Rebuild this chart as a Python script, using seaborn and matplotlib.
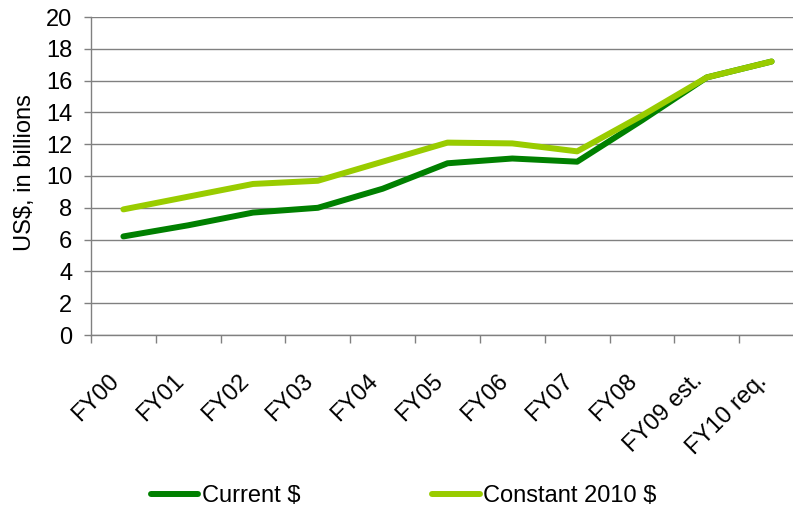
import pandas as pd
import matplotlib
matplotlib.use("Agg")
import matplotlib.pyplot as plt
import matplotlib.transforms as mtransforms
import seaborn as sns

years = ["FY00", "FY01", "FY02", "FY03", "FY04", "FY05",
         "FY06", "FY07", "FY08", "FY09 est.", "FY10 req."]
current = [6.2, 6.9, 7.7, 8.0, 9.2, 10.8, 11.1, 10.9, 13.5, 16.2, 17.2]
constant = [7.9, 8.7, 9.5, 9.7, 10.9, 12.1, 12.05, 11.55, 13.8, 16.2, 17.2]
series_names = ["Current $", "Constant 2010 $"]
colors = ["#008000", "#99CC00"]

df = pd.DataFrame({
    "year": years * 2,
    "value": current + constant,
    "series": [series_names[0]] * len(years) + [series_names[1]] * len(years),
})

sns.set_style("white")
plt.rcParams["font.family"] = ["Liberation Sans", "DejaVu Sans"]
plt.rcParams["text.color"] = "black"
plt.rcParams["axes.labelcolor"] = "black"
fs = 17

fig = plt.figure(figsize=(7.93, 5.14), dpi=100)
# right edge of the plot runs past the image, as in the original
ax = fig.add_axes([91 / 793, 1 - 335 / 514, 713 / 793, 318 / 514])

sns.lineplot(data=df, x="year", y="value", hue="series", palette=colors,
             linewidth=4.3, sort=False, ax=ax, solid_capstyle="round")

ax.set_ylim(0, 20)
ax.set_yticks(range(0, 21, 2))
ax.set_xlim(-0.5, len(years) - 0.5)

# category boundaries get the tick marks, labels sit at the centres
ax.set_xticks([i - 0.5 for i in range(len(years) + 1)])
ax.set_xticklabels([])
ax.set_xticks(range(len(years)), minor=True)
ax.set_xticklabels(years, minor=True, rotation=45, ha="right", va="top",
                   fontsize=fs)
shift = mtransforms.ScaledTranslation(-4 / 100, 0, fig.dpi_scale_trans)
for lbl in ax.get_xticklabels(minor=True):
    lbl.set_transform(lbl.get_transform() + shift)
ax.tick_params(axis="x", which="minor", length=0, pad=25, labelcolor="black")
ax.tick_params(axis="x", which="major", length=6, width=1, color="#808080",
               direction="out", bottom=True)
ax.tick_params(axis="y", length=5, width=1, color="#808080", direction="out",
               left=True, labelsize=fs, pad=8.5, labelcolor="black")

ax.yaxis.grid(True, color="#808080", linewidth=1)
ax.set_axisbelow(True)
for s in ["top", "right"]:
    ax.spines[s].set_visible(False)
for s in ["left", "bottom"]:
    ax.spines[s].set_color("#808080")
    ax.spines[s].set_linewidth(1)

ax.set_xlabel("")
ax.set_ylabel("US$, in billions", fontsize=fs)
ax.yaxis.set_label_coords(-0.077, 0.51)

handles, labels = ax.get_legend_handles_labels()
ax.get_legend().remove()
fig.legend(handles, labels, loc="center", bbox_to_anchor=(0.509, 0.035),
           ncol=2, frameon=False, fontsize=fs, handlelength=2.0,
           handletextpad=0.15, columnspacing=5.6)

fig.savefig("out.png", dpi=100)
